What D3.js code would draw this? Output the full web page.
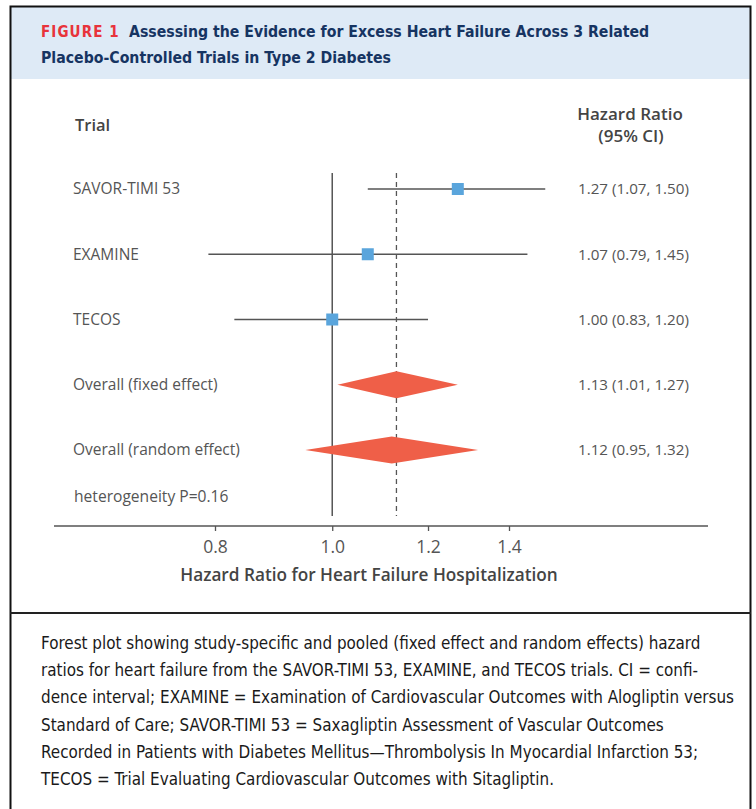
<!DOCTYPE html>
<html>
<head>
<meta charset="utf-8">
<script src="https://cdn.jsdelivr.net/npm/d3@7"></script>
<style>
  html, body { margin: 0; padding: 0; background: #fff; }
  svg { display: block; }
</style>
</head>
<body>
<svg id="fig" width="756" height="809"></svg>
<script>
// Individual trials
const trials = ["SAVOR-TIMI 53", "EXAMINE", "TECOS"];
const trialHr = [1.27, 1.07, 1.00];
const trialLo = [1.07, 0.79, 0.83];
const trialHi = [1.50, 1.45, 1.20];

// Pooled estimates
const pooled = ["Overall (fixed effect)", "Overall (random effect)"];
const pooledHr = [1.13, 1.12];
const pooledLo = [1.01, 0.95];
const pooledHi = [1.27, 1.32];

const heterogeneity = "heterogeneity P=0.16";
const axisTicks = [0.8, 1.0, 1.2, 1.4];

const titleTag = "FIGURE 1";
const titleLines = [
  "Assessing the Evidence for Excess Heart Failure Across 3 Related",
  "Placebo-Controlled Trials in Type 2 Diabetes"
];
const captionLines = [
  "Forest plot showing study-specific and pooled (fixed effect and random effects) hazard",
  "ratios for heart failure from the SAVOR-TIMI 53, EXAMINE, and TECOS trials. CI = confi-",
  "dence interval; EXAMINE = Examination of Cardiovascular Outcomes with Alogliptin versus",
  "Standard of Care; SAVOR-TIMI 53 = Saxagliptin Assessment of Vascular Outcomes",
  "Recorded in Patients with Diabetes Mellitus\u2014Thrombolysis In Myocardial Infarction 53;",
  "TECOS = Trial Evaluating Cardiovascular Outcomes with Sitagliptin."
];

const fmt = d3.format(".2f");
const ciText = (h, l, u) => `${fmt(h)} (${fmt(l)}, ${fmt(u)})`;

const svg = d3.select("#fig");
const chartFont = "'Open Sans', 'Noto Sans', sans-serif";
const condFont = "'DejaVu Sans Condensed', 'Liberation Sans Narrow', sans-serif";

// Frame and title band
svg.append("rect").attr("x", 11).attr("y", 7).attr("width", 739).attr("height", 72)
  .attr("fill", "#deeaf6");
svg.append("path").attr("d", "M10.5,820 V6.5 H750.5 V820")
  .attr("fill", "none").attr("stroke", "#111").attr("stroke-width", 2);
svg.append("line").attr("x1", 10).attr("x2", 751).attr("y1", 613).attr("y2", 613)
  .attr("stroke", "#222").attr("stroke-width", 2);

const title = svg.append("g").attr("font-family", condFont).attr("font-weight", "bold");
title.append("text").attr("x", 41).attr("y", 37).attr("font-size", 15)
  .attr("fill", "#e8333b").attr("letter-spacing", 1.1).text(titleTag);
title.append("text").attr("x", 129).attr("y", 37).attr("font-size", 15.7)
  .attr("fill", "#163462").text(titleLines[0]);
title.append("text").attr("x", 41).attr("y", 63).attr("font-size", 15.7)
  .attr("fill", "#163462").text(titleLines[1]);

// Scales
const x = d3.scaleLog().domain([0.8, 1.4]).range([215, 509]);
const rows = trials.concat(pooled);
const y = d3.scalePoint().domain(rows).range([189, 450]);

const plot = svg.append("g").attr("font-family", chartFont);

// Column headers
plot.append("text").attr("x", 75).attr("y", 131).attr("font-size", 16.5)
  .attr("font-weight", 600).attr("fill", "#444").text("Trial");
const hrHead = plot.append("text").attr("text-anchor", "middle")
  .attr("font-size", 17).attr("font-weight", 600).attr("fill", "#444");
hrHead.append("tspan").attr("x", 630).attr("y", 120).text("Hazard Ratio");
hrHead.append("tspan").attr("x", 631).attr("y", 142).text("(95% CI)");

// Reference line at HR = 1 and dashed line at pooled fixed-effect estimate
const refTop = 173, refBottom = 516;
plot.append("line").attr("x1", x(1)).attr("x2", x(1)).attr("y1", refTop).attr("y2", refBottom)
  .attr("stroke", "#555").attr("stroke-width", 1.5);
plot.append("line").attr("x1", x(pooledHr[0])).attr("x2", x(pooledHr[0]))
  .attr("y1", refTop).attr("y2", refBottom)
  .attr("stroke", "#555").attr("stroke-width", 1.3).attr("stroke-dasharray", "5,4");

// Trial rows: CI whiskers and point estimates
trials.forEach((t, i) => {
  const cy = y(t);
  plot.append("line").attr("x1", x(trialLo[i])).attr("x2", x(trialHi[i]))
    .attr("y1", cy).attr("y2", cy).attr("stroke", "#555").attr("stroke-width", 1.3);
  plot.append("rect").attr("x", x(trialHr[i]) - 6).attr("y", cy - 6)
    .attr("width", 12).attr("height", 12).attr("fill", "#5aa5dc");
});

// Pooled diamonds
pooled.forEach((p, i) => {
  const cy = y(p), h = 13.5;
  plot.append("path")
    .attr("d", `M${x(pooledLo[i])},${cy} L${x(pooledHr[i])},${cy - h} L${x(pooledHi[i])},${cy} L${x(pooledHr[i])},${cy + h} Z`)
    .attr("fill", "#ef5f48");
});

// Row labels and estimate text
rows.forEach(r => {
  plot.append("text").attr("x", 73).attr("y", y(r)).attr("dy", "0.35em")
    .attr("font-size", 15.5).attr("fill", "#555").text(r);
});
trials.forEach((t, i) => {
  plot.append("text").attr("x", 578).attr("y", y(t)).attr("dy", "0.35em")
    .attr("font-size", 15.2).attr("fill", "#555").text(ciText(trialHr[i], trialLo[i], trialHi[i]));
});
pooled.forEach((p, i) => {
  plot.append("text").attr("x", 578).attr("y", y(p)).attr("dy", "0.35em")
    .attr("font-size", 15.2).attr("fill", "#555").text(ciText(pooledHr[i], pooledLo[i], pooledHi[i]));
});
plot.append("text").attr("x", 74).attr("y", 497).attr("dy", "0.35em")
  .attr("font-size", 15.6).attr("fill", "#555").text(heterogeneity);

// X axis
const axisY = 526;
plot.append("line").attr("x1", 54).attr("x2", 708).attr("y1", axisY).attr("y2", axisY)
  .attr("stroke", "#555").attr("stroke-width", 1.5);
const axis = plot.append("g").attr("transform", `translate(0,${axisY})`)
  .call(d3.axisBottom(x).tickValues(axisTicks).tickFormat(d3.format(".1f")).tickSize(5).tickPadding(10));
axis.select(".domain").remove();
axis.selectAll(".tick line").attr("stroke", "#555").attr("stroke-width", 1.3);
axis.selectAll(".tick text").attr("font-family", chartFont).attr("font-size", 17.5)
  .attr("fill", "#555");
plot.append("text").attr("x", 369).attr("y", 581).attr("text-anchor", "middle")
  .attr("font-size", 17.2).attr("font-weight", 600).attr("fill", "#444")
  .text("Hazard Ratio for Heart Failure Hospitalization");

// Caption
const cap = svg.append("g").attr("font-family", condFont).attr("font-size", 16.9).attr("fill", "#1a1a1a");
captionLines.forEach((line, i) => {
  cap.append("text").attr("x", 41).attr("y", 649 + i * 27.2).text(line);
});
</script>
</body>
</html>
